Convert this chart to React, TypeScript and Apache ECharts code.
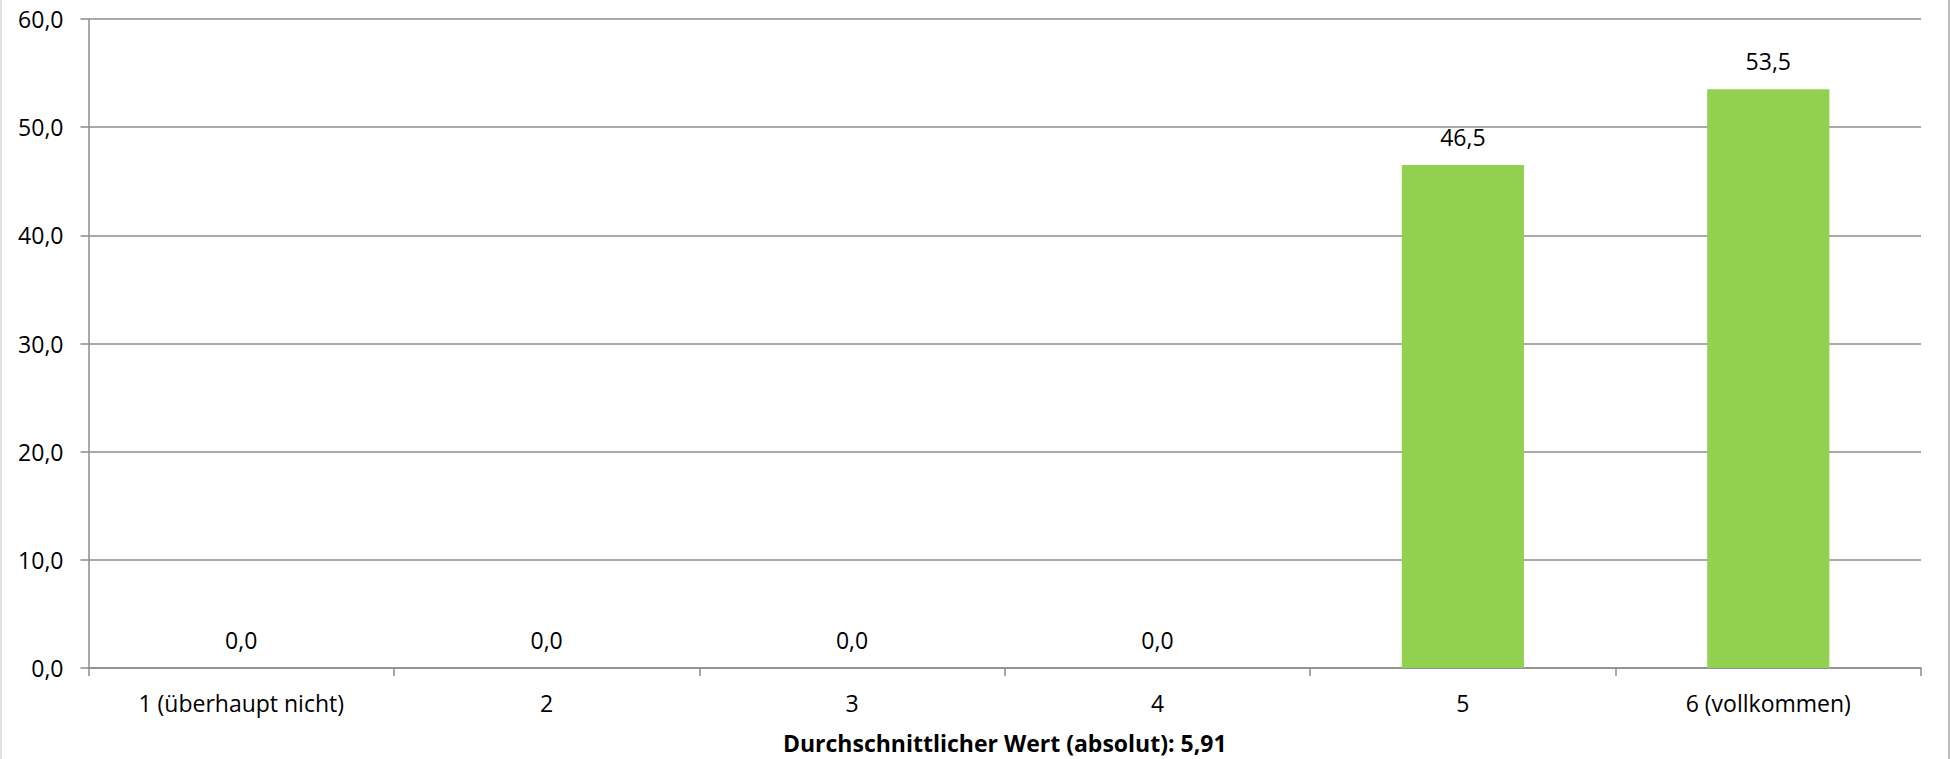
import React, { useEffect, useRef } from "react";
import * as echarts from "echarts";

const categories = ["1 (überhaupt nicht)", "2", "3", "4", "5", "6 (vollkommen)"];
const values = [0.0, 0.0, 0.0, 0.0, 46.5, 53.5];
const yTicks = { min: 0, max: 60, interval: 10 };
const axisTitle = "Durchschnittlicher Wert (absolut): 5,91";

const fmt = (v: number) => v.toFixed(1).replace(".", ",");
const FONT = "'Open Sans', sans-serif";
const FS = 23;

export default function App() {
  const ref = useRef<HTMLDivElement>(null);
  useEffect(() => {
    document.body.style.margin = "0";
    const chart = echarts.init(ref.current!, null, { renderer: "svg" });
    chart.setOption({
      animation: false,
      backgroundColor: "#ffffff",
      textStyle: { fontFamily: FONT },
      grid: { left: 88.5, right: 29, top: 19, bottom: 91, containLabel: false, outerBoundsMode: "none" },
      graphic: [
        { type: "line", shape: { x1: 1, y1: 0, x2: 1, y2: 759 }, style: { stroke: "#d9d9d9", lineWidth: 1.5 } },
        { type: "line", shape: { x1: 1949, y1: 0, x2: 1949, y2: 759 }, style: { stroke: "#a6a6a6", lineWidth: 1.5 } },
      ],
      xAxis: {
        type: "category",
        data: categories,
        axisLine: { show: true, lineStyle: { color: "#8c8c8c", width: 1.5 } },
        axisTick: { show: true, length: 8, alignWithLabel: false, lineStyle: { color: "#8c8c8c", width: 1.5 } },
        axisLabel: { color: "#000", fontSize: FS, margin: 23, fontFamily: FONT },
        name: axisTitle,
        nameLocation: "middle",
        nameGap: 63,
        nameTextStyle: { color: "#000", fontSize: FS, fontWeight: "bold", fontFamily: FONT },
      },
      yAxis: {
        type: "value",
        min: yTicks.min,
        max: yTicks.max,
        interval: yTicks.interval,
        axisLine: { show: true, lineStyle: { color: "#8c8c8c", width: 1.5 } },
        axisTick: { show: true, length: 8, lineStyle: { color: "#8c8c8c", width: 1.5 } },
        splitLine: { show: true, lineStyle: { color: "#8c8c8c", width: 1.5 } },
        axisLabel: { color: "#000", fontSize: FS, margin: 25, formatter: (v: number) => fmt(v), fontFamily: FONT },
      },
      series: [
        {
          type: "bar",
          data: values,
          barWidth: "40%",
          itemStyle: { color: "#92D050" },
          label: {
            show: true,
            position: "top",
            distance: 17,
            color: "#000",
            fontSize: FS,
            fontFamily: FONT,
            formatter: (p: any) => fmt(p.value),
          },
        },
      ],
    });
    return () => chart.dispose();
  }, []);
  return <div ref={ref} style={{ width: 1950, height: 759 }} />;
}
